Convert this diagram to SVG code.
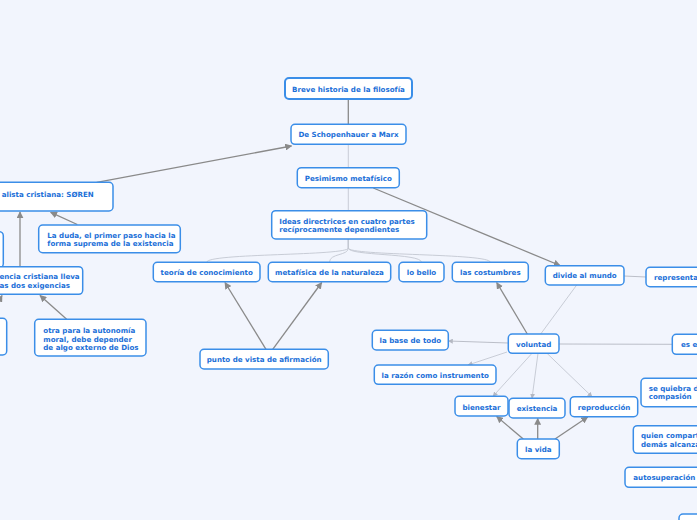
<svg xmlns="http://www.w3.org/2000/svg" width="697" height="520" viewBox="0 0 697 520">
<defs>
<style>
.n rect{fill:#fff;stroke:#3b8ee8;stroke-width:1.5}
.n text{font-family:"DejaVu Sans",Verdana,sans-serif;font-weight:bold;font-size:7.1px;fill:#1b6fd8}
.c{text-anchor:middle}
.dk{stroke:#8a8a8a;stroke-width:1.3;fill:none}
.lt{stroke:#c3c7d1;stroke-width:0.9;fill:none}
.md{stroke:#b4b8c2;stroke-width:0.9;fill:none}
</style>
<marker id="ad" viewBox="0 0 10 10" refX="9" refY="5" markerWidth="7" markerHeight="7" markerUnits="userSpaceOnUse" orient="auto"><path d="M0,0 L10,5 L0,10 z" fill="#8a8a8a"/></marker>
<marker id="al" viewBox="0 0 10 10" refX="9" refY="5" markerWidth="5" markerHeight="5" markerUnits="userSpaceOnUse" orient="auto"><path d="M0,0 L10,5 L0,10 z" fill="#b4b8c2"/></marker>
</defs>
<rect x="0" y="0" width="697" height="520" fill="#f2f5fd"/>
<g id="connectors">
<path class="dk" d="M348.3,99.3 V124.3"/>
<path class="lt" d="M348.3,144.3 V167.7"/>
<path class="lt" d="M348.3,187.7 V210.7"/>
<path class="lt" d="M348.3,239 V248 C348.3,256 206.7,253 206.7,262.3"/>
<path class="lt" d="M348.3,239 V248 C348.3,256 329.5,253 329.5,262.3"/>
<path class="lt" d="M348.3,239 V248 C348.3,256 421.5,253 421.5,262.3"/>
<path class="lt" d="M348.3,239 V248 C348.3,256 490.3,253 490.3,262.3"/>
<path class="dk" marker-end="url(#ad)" d="M96.7,182.3 L291.5,146"/>
<path class="dk" marker-end="url(#ad)" d="M77.3,224.5 L50.7,212.3"/>
<path class="dk" marker-end="url(#ad)" d="M20,266.7 L20,212"/>
<path class="dk" marker-end="url(#ad)" d="M66.7,319.3 L40,295.5"/>
<path class="dk" marker-end="url(#ad)" d="M-10,318 L2,295.5"/>
<path class="dk" marker-end="url(#ad)" d="M373.3,188 L560,265.5"/>
<path class="dk" marker-end="url(#ad)" d="M266,349.3 L225,282.5"/>
<path class="dk" marker-end="url(#ad)" d="M272.7,349.3 L321.7,282.5"/>
<path class="dk" marker-end="url(#ad)" d="M527.3,334 L496.7,282.5"/>
<path class="dk" marker-end="url(#ad)" d="M523.3,439 L496.7,416.5"/>
<path class="dk" marker-end="url(#ad)" d="M537.7,439 L537.7,418.5"/>
<path class="dk" marker-end="url(#ad)" d="M555,439 L587.7,417"/>
<path class="lt" d="M576.7,285 L540.7,334"/>
<path class="md" d="M624,276 L646,277"/>
<path class="md" marker-end="url(#al)" d="M508.3,343 L448.3,341"/>
<path class="lt" marker-end="url(#al)" d="M507,352 L468,365"/>
<path class="lt" marker-end="url(#al)" d="M532,353.3 L493,396.3"/>
<path class="lt" marker-end="url(#al)" d="M538,353.3 L532,398.3"/>
<path class="lt" marker-end="url(#al)" d="M547,353.3 L592,396.7"/>
<path class="md" d="M559,344 L672.3,344.3"/>
</g>
<g id="n1" class="n"><rect x="285" y="78" width="127" height="21" rx="4" style="stroke-width:2"/><text class="c" x="348.5" y="91.5">Breve historia de la filosofía</text></g>
<g id="n2" class="n"><rect x="291" y="124.3" width="115" height="20" rx="4"/><text class="c" x="348.5" y="136.8">De Schopenhauer a Marx</text></g>
<g id="n3" class="n"><rect x="297.3" y="167.7" width="102" height="20" rx="4"/><text class="c" x="348.3" y="180.8">Pesimismo metafísico</text></g>
<g id="n4" class="n"><rect x="271.7" y="210.7" width="155" height="28.3" rx="4"/><text x="279.3" y="224.2">Ideas directrices en cuatro partes</text><text x="279.3" y="232">recíprocamente dependientes</text></g>
<g id="n5" class="n"><rect x="153.3" y="262.3" width="106.7" height="19.4" rx="4"/><text class="c" x="206.7" y="274.8">teoría de conocimiento</text></g>
<g id="n6" class="n"><rect x="268.3" y="262.3" width="122.4" height="19.4" rx="4"/><text class="c" x="329.5" y="274.8">metafísica de la naturaleza</text></g>
<g id="n7" class="n"><rect x="399" y="262.3" width="45" height="19.4" rx="4"/><text class="c" x="421.5" y="274.8">lo bello</text></g>
<g id="n8" class="n"><rect x="452.3" y="262.3" width="76" height="19.4" rx="4"/><text class="c" x="490.3" y="274.8">las costumbres</text></g>
<g id="n9" class="n"><rect x="545.3" y="265.7" width="78.7" height="19.3" rx="4"/><text class="c" x="584.7" y="277.8">divide al mundo</text></g>
<g id="n10" class="n"><rect x="646" y="267.3" width="120" height="19.4" rx="4"/><text x="654" y="279.8">representa</text></g>
<g id="n11" class="n"><rect x="508.3" y="334" width="50.7" height="19.3" rx="4"/><text class="c" x="533.7" y="346.8">voluntad</text></g>
<g id="n12" class="n"><rect x="372.3" y="330.3" width="76" height="19.7" rx="4"/><text class="c" x="410.3" y="342.8">la base de todo</text></g>
<g id="n13" class="n"><rect x="374.3" y="365" width="121.7" height="19.3" rx="4"/><text class="c" x="435.2" y="378.2">la razón como instrumento</text></g>
<g id="n14" class="n"><rect x="455" y="396.3" width="53" height="19.7" rx="4"/><text class="c" x="481.5" y="410.2">bienestar</text></g>
<g id="n15" class="n"><rect x="509" y="398.3" width="56" height="19.7" rx="4"/><text class="c" x="537" y="411.2">existencia</text></g>
<g id="n16" class="n"><rect x="570.3" y="396.7" width="67.4" height="20" rx="4"/><text class="c" x="604" y="409.8">reproducción</text></g>
<g id="n17" class="n"><rect x="517.3" y="439" width="42" height="19.7" rx="4"/><text class="c" x="538.3" y="452.2">la vida</text></g>
<g id="n18" class="n"><rect x="672.3" y="334.3" width="100" height="20" rx="4"/><text x="681" y="346.8">es e</text></g>
<g id="n19" class="n"><rect x="641" y="378.3" width="100" height="28.4" rx="4"/><text x="648.7" y="390.8">se quiebra d</text><text x="648.7" y="399.2">compasión</text></g>
<g id="n20" class="n"><rect x="633.3" y="425.7" width="100" height="27.6" rx="4"/><text x="641" y="438.2">quien compart</text><text x="641" y="446.8">demás alcanza</text></g>
<g id="n21" class="n"><rect x="625" y="467.3" width="100" height="20" rx="4"/><text x="633.3" y="480.2">autosuperación d</text></g>
<g id="n22" class="n"><rect x="679" y="514" width="100" height="30" rx="4"/></g>
<g id="n23" class="n"><rect x="-60" y="182.3" width="173" height="28.7" rx="4"/><text x="1.7" y="196.5">alista cristiana: SØREN</text></g>
<g id="n24" class="n"><rect x="38.7" y="225" width="141.6" height="27.7" rx="4"/><text x="47.3" y="237.5">La duda, el primer paso hacia la</text><text x="47.3" y="245.8">forma suprema de la existencia</text></g>
<g id="n26" class="n"><rect x="-80" y="231.7" width="83.3" height="36" rx="4"/></g>
<g id="n25" class="n"><rect x="-80" y="266.7" width="162.7" height="27.6" rx="4"/><text x="-0.5" y="279.2">encia cristiana lleva</text><text x="-0.5" y="288.2">as dos exigencias</text></g>
<g id="n27" class="n"><rect x="-80" y="318.3" width="86.7" height="36.7" rx="4"/></g>
<g id="n28" class="n"><rect x="34.7" y="319.3" width="111.3" height="36.7" rx="4"/><text x="43.3" y="333.2">otra para la autonomía</text><text x="43.3" y="341.5">moral, debe depender</text><text x="43.3" y="349.8">de algo externo de Dios</text></g>
<g id="n29" class="n"><rect x="200" y="349.3" width="128.3" height="19.7" rx="4"/><text class="c" x="264.2" y="361.8">punto de vista de afirmación</text></g>
</svg>
